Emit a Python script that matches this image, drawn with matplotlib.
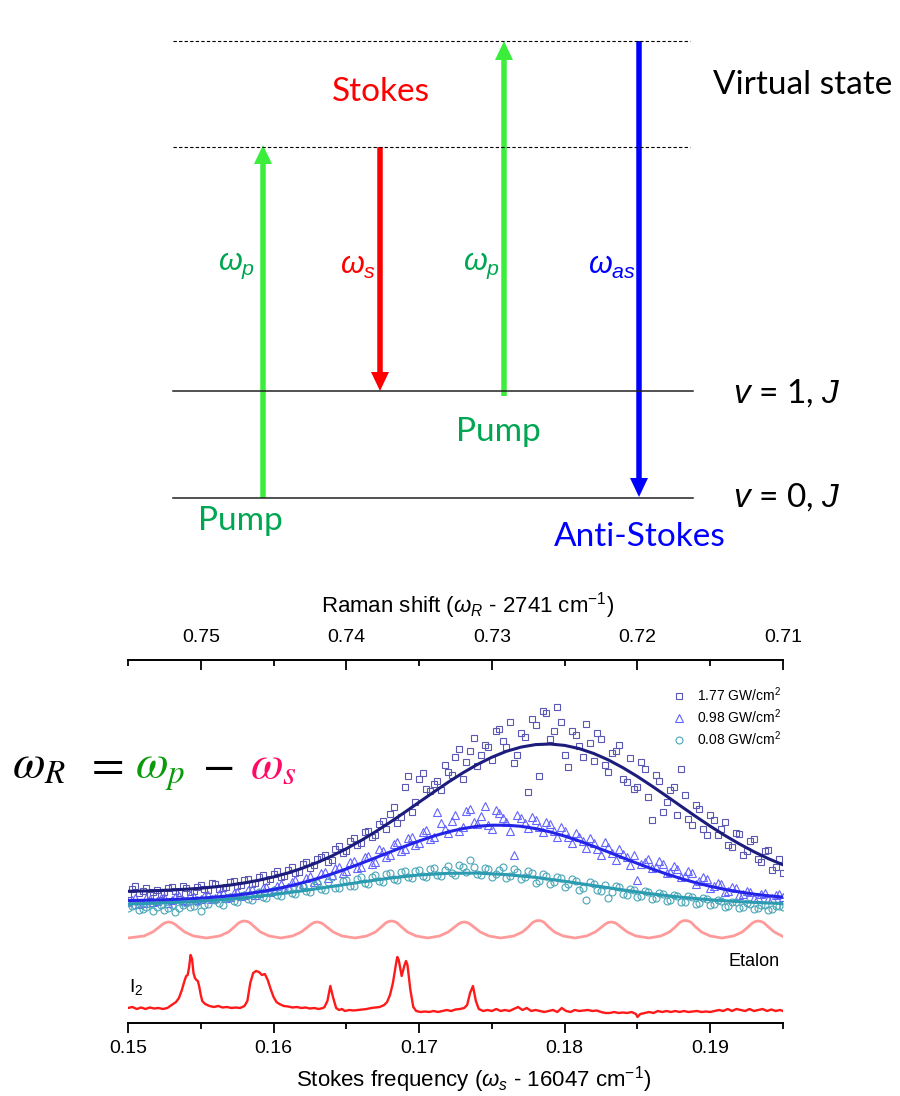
import numpy as np
import matplotlib.pyplot as plt
from matplotlib.ticker import MultipleLocator

plt.rcParams['mathtext.fontset'] = 'custom'
plt.rcParams['mathtext.rm'] = 'Liberation Sans'
plt.rcParams['mathtext.it'] = 'Liberation Sans:italic'
plt.rcParams['mathtext.bf'] = 'Liberation Sans:bold'
plt.rcParams['font.family'] = ['Liberation Sans', 'DejaVu Sans']

# ---- data (Stokes frequency offset, intensity in a.u.) ----
scatter_x = np.round(np.arange(0.150, 0.19501, 0.0005), 4)
scatter_x2 = np.round(np.arange(0.15025, 0.1948, 0.0005), 5)
pts_177 = [1.23, 1.31, 1.26, 1.22, 1.27, 1.25, 1.30, 1.24, 1.29, 1.26,
           1.32, 1.27, 1.33, 1.29, 1.35, 1.31, 1.37, 1.33, 1.40, 1.36,
           1.43, 1.40, 1.47, 1.44, 1.53, 1.49, 1.58, 1.62, 1.57, 1.71,
           1.66, 1.79, 1.74, 1.86, 1.82, 1.96, 2.03, 1.94, 2.30, 2.05,
           2.38, 2.28, 2.33, 2.27, 2.45, 2.60, 2.38, 2.66, 2.51, 2.72,
           2.57, 2.88, 2.70, 2.54, 2.84, 2.25, 2.92, 3.06, 2.78, 3.10,
           2.62, 2.86, 2.71, 2.93, 2.56, 2.78, 2.45, 2.66, 2.38, 2.59,
           2.30, 2.48, 1.97, 2.36, 2.15, 2.30, 2.48, 1.98, 2.12, 1.88,
           2.02, 1.82, 1.95, 1.70, 1.83, 1.66, 1.78, 1.55, 1.67, 1.50,
           1.44]
pts_177b = [1.28, 1.24, 1.29, 1.25, 1.23, 1.29, 1.26, 1.31, 1.25, 1.30,
            1.28, 1.34, 1.28, 1.30, 1.36, 1.32, 1.38, 1.34, 1.42, 1.38,
            1.46, 1.41, 1.50, 1.45, 1.55, 1.52, 1.60, 1.55, 1.68, 1.64,
            1.76, 1.72, 1.85, 1.80, 1.93, 1.88, 2.10, 2.00, 2.41, 2.15,
            2.44, 2.26, 2.36, 2.52, 2.42, 2.68, 2.55, 2.79, 2.62, 2.70,
            2.86, 2.76, 2.95, 2.62, 2.80, 2.98, 2.41, 3.04, 2.86, 2.95,
            2.50, 2.82, 2.60, 2.74, 2.84, 2.52, 2.64, 2.72, 2.35, 2.28,
            2.55, 2.20, 2.42, 2.05, 2.27, 2.02, 2.22, 1.92, 2.08, 1.82,
            1.97, 1.88, 1.72, 1.84, 1.62, 1.76, 1.58, 1.66, 1.47, 1.58]
pts_098 = [1.15, 1.19, 1.14, 1.18, 1.16, 1.20, 1.17, 1.21, 1.16, 1.20,
           1.18, 1.22, 1.19, 1.24, 1.20, 1.25, 1.22, 1.28, 1.24, 1.30,
           1.27, 1.33, 1.30, 1.37, 1.33, 1.41, 1.37, 1.45, 1.42, 1.50,
           1.46, 1.56, 1.50, 1.61, 1.55, 1.66, 1.62, 1.75, 1.68, 1.80,
           1.74, 1.87, 1.80, 1.94, 1.84, 2.02, 1.90, 2.08, 1.93, 2.11,
           1.88, 2.04, 1.95, 1.62, 1.99, 1.89, 1.97, 1.85, 1.93, 1.80,
           1.86, 1.74, 1.80, 1.69, 1.74, 1.62, 1.70, 1.57, 1.63, 1.52,
           1.37, 1.55, 1.49, 1.56, 1.44, 1.51, 1.40, 1.46, 1.33, 1.40,
           1.29, 1.34, 1.25, 1.30, 1.22, 1.26, 1.19, 1.23, 1.18, 1.22,
           1.20]
pts_098b = [1.17, 1.13, 1.19, 1.15, 1.19, 1.14, 1.20, 1.17, 1.22, 1.17,
            1.21, 1.18, 1.23, 1.19, 1.24, 1.21, 1.27, 1.22, 1.29, 1.25,
            1.31, 1.28, 1.35, 1.31, 1.39, 1.35, 1.44, 1.39, 1.49, 1.44,
            1.55, 1.49, 1.60, 1.53, 1.68, 1.60, 1.73, 1.66, 1.79, 1.72,
            1.85, 1.78, 2.05, 1.88, 1.96, 1.86, 2.06, 1.95, 2.01, 1.92,
            2.07, 1.99, 1.86, 2.02, 1.94, 2.00, 1.90, 1.95, 1.86, 1.90,
            1.80, 1.84, 1.76, 1.79, 1.68, 1.75, 1.64, 1.68, 1.60, 1.62,
            1.53, 1.58, 1.50, 1.53, 1.45, 1.48, 1.41, 1.44, 1.36, 1.38,
            1.31, 1.33, 1.26, 1.29, 1.23, 1.25, 1.20, 1.24, 1.19, 1.23]
pts_008 = [1.09, 1.12, 1.08, 1.13, 1.10, 1.07, 1.12, 1.09, 1.14, 1.11,
           1.06, 1.13, 1.17, 1.12, 1.20, 1.15, 1.22, 1.17, 1.25, 1.19,
           1.27, 1.21, 1.29, 1.23, 1.31, 1.25, 1.34, 1.27, 1.40, 1.29,
           1.37, 1.31, 1.40, 1.33, 1.42, 1.35, 1.44, 1.37, 1.46, 1.39,
           1.47, 1.40, 1.49, 1.41, 1.51, 1.42, 1.50, 1.57, 1.43, 1.49,
           1.40, 1.47, 1.39, 1.48, 1.38, 1.46, 1.34, 1.43, 1.33, 1.40,
           1.30, 1.38, 1.27, 1.17, 1.33, 1.26, 1.19, 1.31, 1.23, 1.28,
           1.20, 1.26, 1.18, 1.24, 1.16, 1.22, 1.15, 1.21, 1.13, 1.19,
           1.12, 1.17, 1.10, 1.15, 1.09, 1.14, 1.08, 1.12, 1.07, 1.11,
           1.10]
pts_008b = [1.11, 1.07, 1.10, 1.06, 1.12, 1.09, 1.05, 1.12, 1.10, 1.15,
            1.12, 1.18, 1.14, 1.19, 1.16, 1.21, 1.18, 1.23, 1.20, 1.25,
            1.22, 1.28, 1.24, 1.30, 1.26, 1.32, 1.28, 1.35, 1.29, 1.36,
            1.31, 1.38, 1.34, 1.40, 1.36, 1.43, 1.38, 1.45, 1.40, 1.46,
            1.41, 1.48, 1.42, 1.47, 1.44, 1.52, 1.45, 1.50, 1.42, 1.48,
            1.43, 1.50, 1.41, 1.45, 1.40, 1.44, 1.36, 1.41, 1.35, 1.39,
            1.33, 1.36, 1.29, 1.35, 1.27, 1.32, 1.25, 1.30, 1.22, 1.27,
            1.21, 1.25, 1.19, 1.23, 1.17, 1.21, 1.15, 1.20, 1.14, 1.18,
            1.13, 1.16, 1.11, 1.15, 1.10, 1.13, 1.09, 1.12, 1.08, 1.11]

fit_x = np.round(np.arange(0.150, 0.19501, 0.001), 3)
fit_177 = [1.257, 1.260, 1.264, 1.270, 1.278, 1.288, 1.302, 1.319, 1.341, 1.368,
           1.401, 1.441, 1.489, 1.545, 1.610, 1.683, 1.764, 1.852, 1.947, 2.046,
           2.148, 2.249, 2.348, 2.441, 2.525, 2.598, 2.657, 2.699, 2.724, 2.730,
           2.716, 2.684, 2.635, 2.571, 2.493, 2.405, 2.309, 2.209, 2.107, 2.006,
           1.908, 1.816, 1.731, 1.653, 1.583, 1.522]
fit_098 = [1.165, 1.167, 1.170, 1.175, 1.181, 1.188, 1.199, 1.212, 1.229, 1.251,
           1.276, 1.307, 1.343, 1.384, 1.430, 1.481, 1.536, 1.592, 1.650, 1.706,
           1.760, 1.809, 1.851, 1.884, 1.907, 1.918, 1.918, 1.907, 1.884, 1.851,
           1.809, 1.760, 1.706, 1.650, 1.592, 1.536, 1.481, 1.430, 1.384, 1.343,
           1.307, 1.276, 1.251, 1.229, 1.212, 1.199]
fit008_x = [0.150, 0.152, 0.154, 0.156, 0.158, 0.160, 0.162, 0.164, 0.166, 0.168,
            0.170, 0.172, 0.174, 0.176, 0.178, 0.180, 0.182, 0.184, 0.186, 0.188,
            0.190, 0.192, 0.194, 0.195]
fit_008 = [1.130, 1.138, 1.150, 1.167, 1.192, 1.224, 1.262, 1.305, 1.349, 1.389,
           1.420, 1.437, 1.439, 1.424, 1.396, 1.357, 1.314, 1.271, 1.231, 1.198,
           1.172, 1.153, 1.140, 1.135]

etalon_x = [0.1500, 0.1511, 0.1517, 0.1521, 0.1524, 0.1526, 0.1528, 0.1530, 0.1532, 0.1535, 0.1539, 0.1545, 0.1554,
            0.1563, 0.1569, 0.1573, 0.1576, 0.1578, 0.1580, 0.1582, 0.1584, 0.1587, 0.1591, 0.1597, 0.1605,
            0.1613, 0.1619, 0.1623, 0.1626, 0.1628, 0.1630, 0.1632, 0.1634, 0.1637, 0.1641, 0.1647, 0.1656,
            0.1664, 0.1670, 0.1674, 0.1677, 0.1679, 0.1681, 0.1683, 0.1685, 0.1688, 0.1692, 0.1698, 0.1706,
            0.1714, 0.1720, 0.1724, 0.1727, 0.1729, 0.1731, 0.1733, 0.1735, 0.1738, 0.1742, 0.1748, 0.1756,
            0.1765, 0.1771, 0.1775, 0.1778, 0.1780, 0.1782, 0.1784, 0.1786, 0.1789, 0.1793, 0.1799, 0.1807,
            0.1815, 0.1821, 0.1825, 0.1828, 0.1830, 0.1832, 0.1834, 0.1836, 0.1839, 0.1843, 0.1849, 0.1858,
            0.1866, 0.1872, 0.1876, 0.1879, 0.1881, 0.1883, 0.1885, 0.1887, 0.1890, 0.1894, 0.1900, 0.1908,
            0.1916, 0.1922, 0.1926, 0.1929, 0.1931, 0.1933, 0.1935, 0.1937, 0.1940, 0.1944, 0.1950]
etalon_y = [0.79, 0.81, 0.85, 0.895, 0.93, 0.945, 0.95, 0.945, 0.93, 0.895, 0.85, 0.81, 0.79,
            0.81, 0.85, 0.90, 0.94, 0.955, 0.96, 0.955, 0.94, 0.90, 0.85, 0.81, 0.79,
            0.81, 0.85, 0.895, 0.93, 0.945, 0.95, 0.945, 0.93, 0.895, 0.85, 0.81, 0.79,
            0.81, 0.85, 0.90, 0.94, 0.955, 0.96, 0.955, 0.94, 0.90, 0.85, 0.81, 0.79,
            0.81, 0.85, 0.895, 0.93, 0.945, 0.95, 0.945, 0.93, 0.895, 0.85, 0.81, 0.79,
            0.81, 0.85, 0.90, 0.945, 0.96, 0.965, 0.96, 0.945, 0.90, 0.85, 0.81, 0.79,
            0.81, 0.85, 0.895, 0.93, 0.945, 0.95, 0.945, 0.93, 0.895, 0.85, 0.81, 0.79,
            0.81, 0.85, 0.90, 0.945, 0.96, 0.965, 0.96, 0.945, 0.90, 0.85, 0.81, 0.79,
            0.81, 0.85, 0.90, 0.94, 0.955, 0.96, 0.955, 0.94, 0.90, 0.85, 0.805]

i2_x = [0.1500, 0.1503, 0.1506, 0.1509, 0.1512, 0.1515, 0.1518, 0.1521, 0.1524, 0.1527,
        0.1529, 0.1531, 0.1533, 0.1535, 0.1537, 0.1539, 0.1540, 0.1541, 0.1542, 0.1543,
        0.1544, 0.1545, 0.1546, 0.1547, 0.1548, 0.1549, 0.1550, 0.1551, 0.1553, 0.1556,
        0.1559, 0.1562, 0.1565, 0.1568, 0.1571, 0.1574, 0.1577, 0.1580, 0.1582, 0.1584,
        0.1586, 0.1588, 0.1590, 0.1592, 0.1594, 0.1596, 0.1598, 0.1600, 0.1602, 0.1604,
        0.1607, 0.1610, 0.1613, 0.1616, 0.1619, 0.1622, 0.1625, 0.1628, 0.1631, 0.1634,
        0.1635, 0.1637, 0.1639, 0.1641, 0.1643, 0.1645, 0.1647, 0.1649, 0.1652, 0.1655,
        0.1658, 0.1661, 0.1664, 0.1667, 0.1670, 0.1673, 0.1676, 0.1678, 0.1680, 0.1682,
        0.1684, 0.1685, 0.1686, 0.1688, 0.1690, 0.1691, 0.1692, 0.1694, 0.1696, 0.1698,
        0.1701, 0.1704, 0.1707, 0.1710, 0.1713, 0.1716, 0.1719, 0.1722, 0.1725, 0.1728,
        0.1731, 0.1733, 0.1735, 0.1737, 0.1739, 0.1741, 0.1744, 0.1747, 0.1750, 0.1753,
        0.1756, 0.1759, 0.1762, 0.1765, 0.1768, 0.1771, 0.1774, 0.1777, 0.1780, 0.1783,
        0.1786, 0.1789, 0.1792, 0.1795, 0.1798, 0.1801, 0.1804, 0.1807, 0.1810, 0.1813,
        0.1816, 0.1819, 0.1822, 0.1825, 0.1828, 0.1831, 0.1834, 0.1837, 0.1840, 0.1843,
        0.1846, 0.1849, 0.1850, 0.1852, 0.1855, 0.1858, 0.1861, 0.1864, 0.1867, 0.1870,
        0.1873, 0.1876, 0.1879, 0.1882, 0.1885, 0.1888, 0.1891, 0.1894, 0.1897, 0.1900,
        0.1903, 0.1906, 0.1909, 0.1912, 0.1915, 0.1918, 0.1921, 0.1924, 0.1927, 0.1930,
        0.1933, 0.1936, 0.1939, 0.1942, 0.1945, 0.1948, 0.1950]
i2_y = [0.09, 0.10, 0.08, 0.095, 0.08, 0.095, 0.085, 0.09, 0.08, 0.09,
        0.11, 0.13, 0.15, 0.19, 0.27, 0.37, 0.41, 0.42, 0.50, 0.62,
        0.58, 0.44, 0.39, 0.37, 0.36, 0.30, 0.22, 0.16, 0.13, 0.11,
        0.10, 0.11, 0.095, 0.10, 0.09, 0.095, 0.09, 0.11, 0.16, 0.34,
        0.44, 0.46, 0.45, 0.42, 0.43, 0.37, 0.28, 0.20, 0.15, 0.13,
        0.11, 0.105, 0.095, 0.10, 0.09, 0.095, 0.085, 0.09, 0.08, 0.09,
        0.10, 0.16, 0.31, 0.19, 0.09, 0.07, 0.08, 0.06, 0.07, 0.065,
        0.07, 0.075, 0.08, 0.09, 0.095, 0.10, 0.12, 0.15, 0.22, 0.34,
        0.52, 0.60, 0.57, 0.41, 0.52, 0.56, 0.52, 0.27, 0.10, 0.06,
        0.05, 0.055, 0.05, 0.06, 0.05, 0.06, 0.07, 0.06, 0.075, 0.08,
        0.09, 0.12, 0.24, 0.31, 0.16, 0.08, 0.06, 0.07, 0.06, 0.08,
        0.06, 0.07, 0.06, 0.08, 0.10, 0.07, 0.09, 0.06, 0.07, 0.06,
        0.05, 0.06, 0.07, 0.05, 0.09, 0.06, 0.05, 0.07, 0.06, 0.065,
        0.07, 0.06, 0.065, 0.05, 0.04, 0.04, 0.05, 0.04, 0.045, 0.04,
        0.05, 0.03, 0.00, 0.03, 0.04, 0.05, 0.04, 0.06, 0.05, 0.06,
        0.05, 0.06, 0.05, 0.06, 0.05, 0.055, 0.06, 0.05, 0.055, 0.05,
        0.06, 0.07, 0.06, 0.08, 0.06, 0.08, 0.07, 0.06, 0.08, 0.06,
        0.07, 0.08, 0.06, 0.075, 0.06, 0.07, 0.06]

labels = ['1.77 GW/cm$^2$', '0.98 GW/cm$^2$', '0.08 GW/cm$^2$']

# ---- figure ----
fig = plt.figure(figsize=(9, 10.96), dpi=100)

# canvas in pixel units for the energy level diagram
ax0 = fig.add_axes([0, 0, 1, 1])
ax0.set_xlim(0, 900)
ax0.set_ylim(1096, 0)
ax0.axis('off')

lime = '#3cee3c'
green = '#00a651'
dia_font = ['Lato', 'DejaVu Sans']

for yy in [41, 147]:
    ax0.plot([173, 690], [yy, yy], color='k', lw=0.8, ls=(0, (3, 2)))
for yy in [391, 498]:
    ax0.plot([173, 693], [yy, yy], color='#222222', lw=1.1)

def level_arrow(x, y0, y1, c):
    ax0.arrow(x, y0, 0, y1 - y0, width=5.5, head_width=18, head_length=19,
              length_includes_head=True, color=c, lw=0)

level_arrow(263, 498, 145, lime)
level_arrow(380, 147, 391, '#ff0000')
level_arrow(504, 396, 41, lime)
level_arrow(639, 41, 497, '#0000ff')

ax0.text(381, 92, 'Stokes', color='#ff0000', fontsize=24, family=dia_font, ha='center', va='center')
ax0.text(803, 85, 'Virtual state', color='k', fontsize=24, family=dia_font, ha='center', va='center')
ax0.text(240, 521, 'Pump', color=green, fontsize=24, family=dia_font, ha='center', va='center')
ax0.text(498, 432, 'Pump', color=green, fontsize=24, family=dia_font, ha='center', va='center')
ax0.text(640, 537, 'Anti-Stokes', color='#0000ff', fontsize=24, family=dia_font, ha='center', va='center')
ax0.text(733, 393, '$v$ = 1, $J$', color='k', fontsize=24, family=dia_font, ha='left', va='center')
ax0.text(733, 497, '$v$ = 0, $J$', color='k', fontsize=24, family=dia_font, ha='left', va='center')

ax0.text(236, 266, r'$\omega_p$', color=green, fontsize=22, ha='center', va='center')
ax0.text(358, 266, r'$\omega_s$', color='#ff0000', fontsize=22, ha='center', va='center')
ax0.text(481, 266, r'$\omega_p$', color=green, fontsize=22, ha='center', va='center')
ax0.text(612, 266, r'$\omega_{as}$', color='#0000ff', fontsize=22, ha='center', va='center')

# Raman relation
eq = dict(fontsize=34, math_fontfamily='stix', ha='left', va='baseline')
ax0.text(12, 778, r'$\omega_R$', color='k', **eq)
ax0.text(85, 778, r'$=$', color='k', **eq)
ax0.text(135, 778, r'$\omega_p$', color='#0a9a0a', **eq)
ax0.text(202, 778, r'$-$', color='k', **eq)
ax0.text(250, 778, r'$\omega_s$', color='#ff0a64', **eq)

# ---- spectrum ----
ax = fig.add_axes([128 / 900, 73 / 1096, 655 / 900, 363 / 1096])
ax.set_facecolor('none')

h1, = ax.plot(np.concatenate([scatter_x, scatter_x2]), pts_177 + pts_177b, ls='',
              marker='s', ms=4.2, mfc='none', mec='#5a58b4', mew=0.8)
h2, = ax.plot(np.concatenate([scatter_x, scatter_x2]), pts_098 + pts_098b, ls='',
              marker='^', ms=5.5, mfc='none', mec='#6464ff', mew=0.8)
h3, = ax.plot(np.concatenate([scatter_x, scatter_x2]), pts_008 + pts_008b, ls='',
              marker='o', ms=5, mfc='none', mec='#4aa6b8', mew=0.8)
ax.plot(fit_x, fit_177, color='#1c1c7c', lw=2.2)
ax.plot(fit_x, fit_098, color='#2424e6', lw=2.2)
ax.plot(fit008_x, fit_008, color='#2a9bb0', lw=2.2)
ax.plot(etalon_x, etalon_y, color='#ff9a9a', lw=2.0)
ax.plot(i2_x, i2_y, color='#ff1a1a', lw=1.7)

ax.text(0.1948, 0.56, 'Etalon', fontsize=13, ha='right', va='center')
ax.text(0.1501, 0.30, 'I$_2$', fontsize=14, ha='left', va='center')

ax.legend([h1, h2, h3], labels, loc='upper right', bbox_to_anchor=(0.997, 0.93),
          frameon=False, fontsize=10, handlelength=1.0, handletextpad=0.8,
          labelspacing=0.25, borderaxespad=0, borderpad=0)

ax.set_xlim(0.15, 0.195)
ax.set_ylim(-0.06, 3.57)
ax.set_yticks([])
for s in ['left', 'right', 'top']:
    ax.spines[s].set_visible(False)
ax.spines['bottom'].set_linewidth(1.4)
ax.xaxis.set_major_locator(MultipleLocator(0.01))
ax.xaxis.set_minor_locator(MultipleLocator(0.005))
ax.tick_params(axis='x', which='major', direction='out', length=7, width=1.3, labelsize=14, pad=5)
ax.tick_params(axis='x', which='minor', direction='out', length=4, width=1.3)
ax.set_xlabel(r'Stokes frequency ($\omega_s$ - 16047 cm$^{-1}$)', fontsize=16)
ax.xaxis.set_label_coords(0.527, -0.112)

# Raman shift scale on top
ax2 = ax.twiny()
ax2.set_facecolor('none')
ax2.set_xlim(0.755, 0.71)
for s in ['left', 'right', 'bottom']:
    ax2.spines[s].set_visible(False)
ax2.spines['top'].set_linewidth(1.4)
ax2.xaxis.set_major_locator(MultipleLocator(0.01))
ax2.xaxis.set_minor_locator(MultipleLocator(0.005))
ax2.tick_params(axis='x', which='major', direction='in', length=7, width=1.3, labelsize=14, pad=10)
ax2.tick_params(axis='x', which='minor', direction='in', length=4, width=1.3)
ax2.set_xlabel(r'Raman shift ($\omega_R$ - 2741 cm$^{-1}$)', fontsize=16)
ax2.xaxis.set_label_coords(0.519, 1.132)

fig.savefig('out.png', dpi=100)
